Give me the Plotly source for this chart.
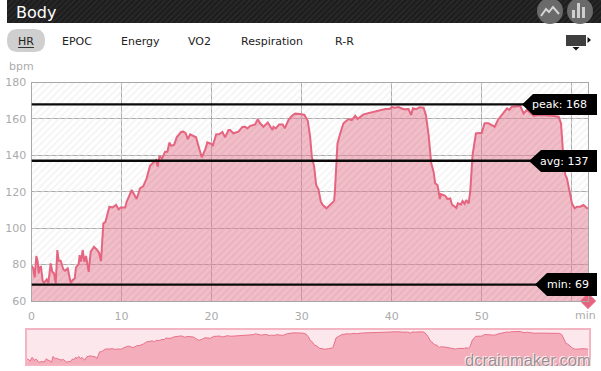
import plotly.graph_objects as go

minutes = [0.02,0.2,0.35,0.54,0.69,0.8,0.9,1.05,1.24,1.39,1.69,1.87,2.13,2.31,2.5,2.69,2.87,3.02,3.24,3.54,
           3.72,4.02,4.35,4.57,4.8,4.94,5.24,5.35,5.5,5.69,5.87,6.06,6.35,6.57,6.94,7.24,7.5,7.72,7.98,8.2,
           8.65,9.02,9.39,9.69,9.9,10.39,10.57,11.13,11.68,12.05,12.42,12.79,13.16,13.53,13.83,14.02,14.2,14.5,14.83,15.09,
           15.31,15.5,15.83,16.13,16.61,16.87,17.13,17.35,17.61,18.27,18.53,18.9,19.27,19.53,20.02,20.13,20.5,20.87,21.2,21.5,
           21.87,22.05,22.42,22.98,23.42,23.72,23.98,24.27,24.83,25.13,25.39,25.76,26.24,26.5,26.76,26.87,27.13,27.5,27.9,28.13,
           28.53,28.9,29.27,30.0,30.31,30.68,30.94,31.13,31.39,31.61,31.87,32.13,32.35,32.76,33.16,33.61,33.69,33.84,33.98,34.28,
           34.65,35.2,35.57,35.95,36.2,36.87,37.98,39.28,39.76,40.02,40.39,40.76,41.31,41.87,42.17,42.35,42.72,43.09,43.54,43.8,
           44.1,44.39,44.65,44.83,45.09,45.35,45.46,45.94,46.2,46.5,46.69,47.17,47.35,47.69,47.87,48.1,48.28,48.54,48.72,48.98,
           49.35,50.0,50.32,50.76,51.06,51.43,51.8,52.24,52.8,53.06,53.35,54.28,54.65,55.02,55.76,56.5,57.8,58.54,58.8,59.02,
           59.28,59.46,59.72,60.02,60.31,60.57,60.94,61.3,61.69]
bpm = [79.2,77.9,73,84.7,81.6,75.2,78.4,78.8,71.1,70,71.9,70,80.6,76,75.2,69.6,88,82.1,82.1,77.3,
       76.6,77.9,70,71.5,72.4,78.4,80.3,85.2,81.6,88,81.6,84.7,76,87,89.8,88.3,86.5,81.9,102.6,103.3,
       111.8,111.4,112.7,110.3,111.4,111.4,114.5,121,116,121.9,123.1,127.4,134.3,136.1,137.4,133.8,139.6,138.2,142,142,
       147,145.3,145.7,149.9,152.8,153,152.1,148.8,151.5,149.9,145.7,138.9,142.9,147.1,146.2,145.1,151.5,151.7,152.8,149.9,
       153.9,153.9,152.1,153,155.6,155.7,154.8,156.1,157,159.8,157.6,155.7,158,156.1,153.9,155.7,154.8,157,157,154.8,
       159.4,161.6,162.9,162.5,162.2,159,150.3,139.3,133.8,123.7,121.3,114.5,112.7,110.9,112.7,115,120,136.5,146.6,152,
       157.6,159.9,159.4,161.8,159.9,162.5,164,165.4,165.4,166.5,166.2,166.5,165.3,165.4,162.1,165.8,165.3,166.4,166.2,162.1,
       151.2,135.6,131,124.6,123.7,116,118.7,117.8,116,116.3,113,111.2,113.6,113,114.9,113.4,115.4,113.6,120,140.1,
       152,152.4,157.6,157.6,156.7,155.7,159.4,162.5,165.8,164.9,166.7,167.1,163,164.9,161.8,162.1,161.8,161.2,157.6,142,
       129.2,127.4,120,113.6,110.9,111.8,111.8,112.7,110.9]

ref_labels = ["peak: 168", "avg: 137", "min: 69"]
ref_values = [168, 137, 69]
x_ticks = [0, 10, 20, 30, 40, 50, 60]
x_tick_labels = ["0", "10", "20", "30", "40", "50", ""]
y_ticks = [60, 80, 100, 120, 140, 160, 180]
tabs = ["HR", "EPOC", "Energy", "VO2", "Respiration", "R-R"]
tab_px = [16, 60, 119, 186, 239, 333]

W, H = 601, 371
X_MAX = 61.8
FONT = "DejaVu Sans"
GREY = "#ababab"
LINE = "#e5647f"


def px(v):
    return v / W


def py(v):
    return 1 - v / H


fig = go.Figure()

# main plot
fig.add_trace(go.Scatter(
    x=[0, X_MAX], y=[180, 180], mode="none", fill="tozeroy",
    fillcolor="rgba(255,255,255,0)",
    fillpattern=dict(shape="/", fgcolor="#ececec", bgcolor="rgba(255,255,255,0)", size=5, solidity=0.45),
    hoverinfo="skip", xaxis="x", yaxis="y"))
fig.add_trace(go.Scatter(
    x=[0] + minutes + [X_MAX], y=[bpm[0]] + bpm + [bpm[-1]], mode="lines",
    line=dict(color=LINE, width=2), fill="tozeroy",
    fillcolor="rgba(226,120,145,0.45)",
    fillpattern=dict(shape="/", fgcolor="rgba(214,120,140,0.14)", bgcolor="rgba(226,118,142,0.48)", size=5, solidity=0.4),
    xaxis="x", yaxis="y"))
fig.add_trace(go.Scatter(
    x=[X_MAX], y=[60], mode="markers", cliponaxis=False,
    marker=dict(symbol="diamond", size=12, color=LINE, line=dict(color="#f08aa0", width=1)),
    xaxis="x", yaxis="y"))

# overview
fig.add_trace(go.Scatter(
    x=minutes, y=bpm, mode="lines", line=dict(color="#e9708a", width=1),
    fill="tozeroy", fillcolor="#f4aebb", xaxis="x2", yaxis="y2"))

# header hatch
fig.add_trace(go.Scatter(
    x=[0, 1], y=[1, 1], mode="none", fill="tozeroy", fillcolor="#1d1d1d",
    fillpattern=dict(shape="/", fgcolor="#3b3b3b", bgcolor="#1d1d1d", size=4, solidity=0.35),
    hoverinfo="skip", xaxis="x3", yaxis="y3"))

shapes = []
annotations = []

# reference lines and badges
for label, value, tip, body, top, bottom, text_right in zip(
        ref_labels, ref_values, [522, 529, 535], [533, 541, 547], [94, 150, 273], [115, 172, 296], [589, 590, 591]):
    shapes.append(dict(type="line", xref="x", yref="y", x0=0, x1=X_MAX, y0=value, y1=value,
                       line=dict(color="#0a0a0a", width=2.4), layer="above"))
    mid = (top + bottom) / 2
    shapes.append(dict(type="path", xref="paper", yref="paper", layer="above",
                       path=f"M {px(tip)} {py(mid)} L {px(body)} {py(top)} L {px(597)} {py(top)} "
                            f"L {px(597)} {py(bottom)} L {px(body)} {py(bottom)} Z",
                       fillcolor="#000000", line=dict(width=0)))
    annotations.append(dict(text=label, xref="paper", yref="paper", x=px(text_right), y=py(mid),
                            xanchor="right", yanchor="middle", showarrow=False,
                            font=dict(family=FONT, size=11, color="white")))

# chart chrome
shapes += [
    dict(type="circle", xref="paper", yref="paper", x0=px(537), x1=px(563), y0=py(24), y1=py(-2),
         fillcolor="#6a6a6a", line=dict(width=0), layer="above"),
    dict(type="circle", xref="paper", yref="paper", x0=px(567), x1=px(593), y0=py(24), y1=py(-2),
         fillcolor="#6a6a6a", line=dict(width=0), layer="above"),
    dict(type="path", xref="paper", yref="paper", layer="above",
         path=f"M {px(541)} {py(16)} L {px(546)} {py(9)} L {px(549)} {py(12)} L {px(553)} {py(7)} L {px(559)} {py(14)}",
         line=dict(color="#d5d5d5", width=2)),
    dict(type="path", xref="paper", yref="paper", layer="below",
         path=f"M {px(18)} {py(29)} L {px(34)} {py(29)} Q {px(45)} {py(29)} {px(45)} {py(40.5)} "
              f"Q {px(45)} {py(52)} {px(34)} {py(52)} L {px(18)} {py(52)} Q {px(7)} {py(52)} {px(7)} {py(40.5)} "
              f"Q {px(7)} {py(29)} {px(18)} {py(29)} Z",
         fillcolor="#cfcfcf", line=dict(width=0)),
    dict(type="rect", xref="paper", yref="paper", x0=px(566), x1=px(586), y0=py(46), y1=py(35),
         fillcolor="#3f3f3f", line=dict(width=0)),
    dict(type="path", xref="paper", yref="paper",
         path=f"M {px(587.5)} {py(37)} L {px(591)} {py(40)} L {px(587.5)} {py(43)} Z",
         fillcolor="#111", line=dict(width=0)),
    dict(type="path", xref="paper", yref="paper",
         path=f"M {px(572.5)} {py(47)} L {px(579.5)} {py(47)} L {px(576)} {py(50.5)} Z",
         fillcolor="#111", line=dict(width=0)),
    dict(type="line", xref="paper", yref="paper", x0=px(18), x1=px(34), y0=py(47.5), y1=py(47.5),
         line=dict(color="#333", width=1)),
]
for left, top_h in zip([572, 577, 582], [8, 15, 11]):
    shapes.append(dict(type="rect", xref="paper", yref="paper", layer="above",
                       x0=px(left), x1=px(left + 3), y0=py(18), y1=py(18 - top_h),
                       fillcolor="#cfcfcf", line=dict(width=0)))

annotations.append(dict(text="Body", xref="paper", yref="paper", x=px(14), y=py(12), xanchor="left",
                        yanchor="middle", showarrow=False, font=dict(family=FONT, size=16, color="white")))
for name, left in zip(tabs, tab_px):
    annotations.append(dict(text=name, xref="paper", yref="paper", x=px(left), y=py(41.5), xanchor="left",
                            yanchor="middle", showarrow=False, font=dict(family=FONT, size=11, color="#222")))
annotations += [
    dict(text="bpm", xref="paper", yref="paper", x=px(7), y=py(66), xanchor="left", yanchor="middle",
         showarrow=False, font=dict(family=FONT, size=11, color=GREY)),
    dict(text="min", xref="paper", yref="paper", x=px(585), y=py(315), xanchor="center", yanchor="middle",
         showarrow=False, font=dict(family=FONT, size=11, color=GREY)),
    dict(text="dcrainmaker.com", xref="paper", yref="paper", x=px(593), y=py(360), xanchor="right",
         yanchor="middle", showarrow=False,
         font=dict(family="Liberation Sans", size=16.5, color="rgba(120,120,120,0.75)",
                   shadow="1px 1px 0 white, -1px -1px 0 white")),
]

fig.update_layout(
    width=W, height=H, autosize=False,
    margin=dict(l=0, r=0, t=0, b=0, pad=0),
    paper_bgcolor="white", plot_bgcolor="rgba(0,0,0,0)",
    showlegend=False, shapes=shapes, annotations=annotations,
    xaxis=dict(domain=[px(31.5), px(588)], range=[0, X_MAX], tickvals=x_ticks, ticktext=x_tick_labels,
               automargin=False, showgrid=True, gridcolor="#a8a8a8", gridwidth=1.2, zeroline=False, showline=True,
               linecolor="#a8a8a8", linewidth=1.2, mirror=True, ticks="outside", ticklen=5,
               tickcolor="rgba(0,0,0,0)", tickfont=dict(family=FONT, size=11, color=GREY)),
    yaxis=dict(domain=[py(301), py(82.5)], range=[60, 180], tickvals=y_ticks, showgrid=True, automargin=False,
               gridcolor="#a8a8a8", gridwidth=1.2, zeroline=False, showline=True, linecolor="#a8a8a8",
               linewidth=1.2, mirror=True, ticks="outside", ticklen=2, tickcolor="rgba(0,0,0,0)",
               tickfont=dict(family=FONT, size=11, color=GREY)),
    xaxis2=dict(domain=[px(27), px(589)], range=[0, X_MAX], visible=True, showticklabels=False, ticks="",
                automargin=False, showgrid=False, zeroline=False, showline=True, linecolor="#f4b4c1", linewidth=2,
                mirror=True, anchor="y2"),
    yaxis2=dict(domain=[py(364), py(330)], range=[64, 172], visible=True, showticklabels=False, ticks="",
                automargin=False, showgrid=False, zeroline=False, showline=True, linecolor="#f4b4c1", linewidth=2,
                mirror=True, anchor="x2"),
    xaxis3=dict(domain=[px(7), 1], range=[0, 1], visible=False, anchor="y3", automargin=False),
    yaxis3=dict(domain=[py(23), 1], range=[0, 1], visible=False, anchor="x3", automargin=False),
)
# overview background
fig.add_shape(type="rect", xref="x2 domain", yref="y2 domain", x0=0, x1=1, y0=0, y1=1,
              fillcolor="#fce8ec", line=dict(width=0), layer="below")

fig.write_html("out.html", config=dict(displayModeBar=False),
               post_script="document.body.style.margin='0';document.documentElement.style.overflow='hidden';")
